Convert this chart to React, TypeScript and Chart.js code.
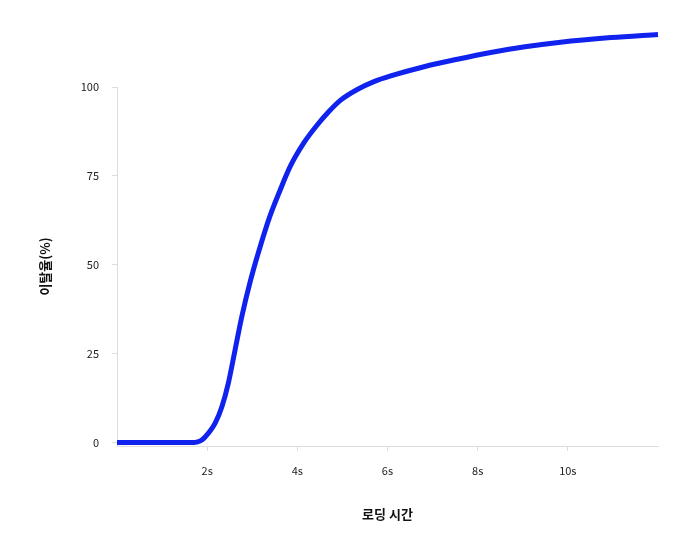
import { useRef, useEffect } from "react";
import Chart from "chart.js/auto";

// loading time (seconds) and bounce rate (%)
const loadSeconds = [
  0, 1.72, 1.86, 1.96, 2.18, 2.33, 2.47, 2.62, 2.77, 2.96, 3.15, 3.39, 3.59,
  3.84, 4.14, 4.44, 4.7, 4.96, 5.33, 5.7, 6.07, 6.81, 7.55, 8.29, 9.05, 9.84,
  10.96, 12,
];
const bounceRate = [
  0, 0, 0.5, 1.6, 5.5, 10.2, 16.7, 26.1, 35.5, 45.5, 54, 63.6, 70.1, 77.6,
  84.2, 89.3, 93.1, 96.3, 99.3, 101.5, 103.1, 105.7, 107.8, 109.7, 111.3,
  112.6, 113.9, 114.8,
];
const xTickValues = [2, 4, 6, 8, 10];
const yTickValues = [0, 25, 50, 75, 100];

const xTitle = "로딩 시간";
const yTitle = "이탈율(%)";

const FONT = "'Noto Sans CJK KR', 'Noto Sans', sans-serif";

const App = () => {
  const chartRef = useRef<HTMLCanvasElement | null>(null);
  const chartInstance = useRef<Chart | null>(null);

  useEffect(() => {
    const ctx = chartRef.current!.getContext("2d")!;

    if (chartInstance.current) {
      chartInstance.current.destroy();
    }

    const points = loadSeconds.map((t, i) => ({ x: t, y: bounceRate[i] }));

    chartInstance.current = new Chart(ctx, {
      type: "line",
      data: {
        datasets: [
          {
            data: points,
            borderColor: "#1022ee",
            borderWidth: 5,
            pointRadius: 0,
            cubicInterpolationMode: "monotone",
            fill: false,
            clip: false, // curve runs above the 100 line
          },
        ],
      },
      options: {
        animation: false,
        responsive: true,
        maintainAspectRatio: false,
        layout: {
          padding: { left: 0, right: 42, top: 87, bottom: 0 },
        },
        plugins: {
          legend: { display: false },
          tooltip: { enabled: false },
        },
        scales: {
          x: {
            type: "linear",
            min: 0,
            max: 12,
            afterBuildTicks: (scale) => {
              scale.ticks = xTickValues.map((v) => ({ value: v }));
            },
            afterFit: (scale) => {
              scale.height = 94;
            },
            border: { display: true, color: "#dddddd", width: 1 },
            grid: {
              drawOnChartArea: false,
              drawTicks: true,
              tickLength: 5,
              color: "#dddddd",
            },
            ticks: {
              padding: 13,
              maxRotation: 0,
              color: "#222222",
              font: { family: FONT, size: 11 },
              callback: (v) => v + "s",
            },
            title: {
              display: true,
              text: xTitle,
              color: "#111111",
              padding: { top: 0, bottom: 18 },
              font: { family: FONT, size: 13, weight: "bold" },
            },
          },
          y: {
            type: "linear",
            min: -1,
            max: 100,
            afterBuildTicks: (scale) => {
              scale.ticks = yTickValues.map((v) => ({ value: v }));
            },
            afterFit: (scale) => {
              scale.width = 117;
            },
            border: { display: true, color: "#dddddd", width: 1 },
            grid: {
              drawOnChartArea: false,
              drawTicks: true,
              tickLength: 5,
              color: "#dddddd",
            },
            ticks: {
              padding: 13,
              color: "#222222",
              font: { family: FONT, size: 11 },
            },
            title: {
              display: true,
              text: yTitle,
              color: "#111111",
              padding: { top: 37, bottom: 0 },
              font: { family: FONT, size: 13, weight: "bold" },
            },
          },
        },
      },
    });

    return () => {
      if (chartInstance.current) {
        chartInstance.current.destroy();
        chartInstance.current = null;
      }
    };
  }, []);

  return (
    <div
      style={{
        position: "fixed",
        left: 0,
        top: 0,
        width: 700,
        height: 540,
        background: "#ffffff",
      }}
    >
      <canvas ref={chartRef}></canvas>
    </div>
  );
};

export default App;
